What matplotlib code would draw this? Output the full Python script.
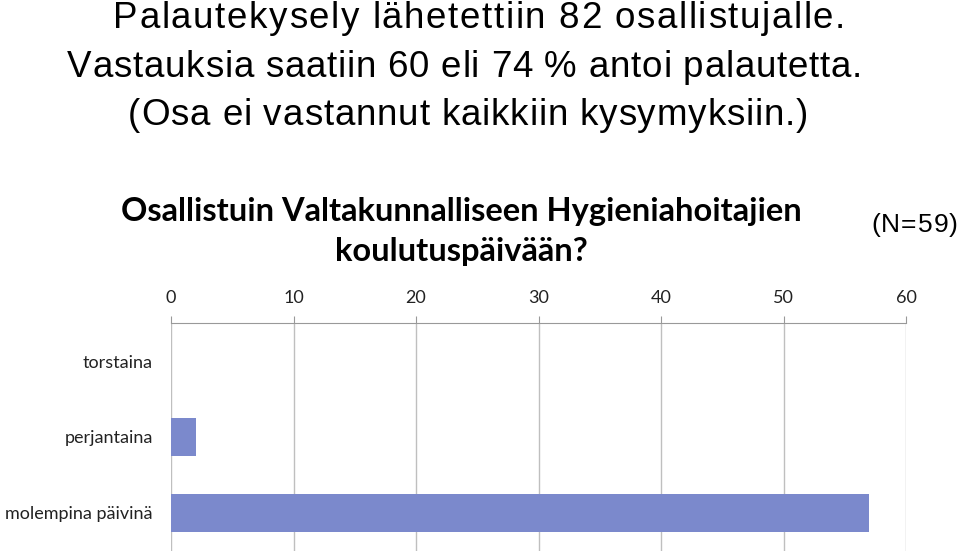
import matplotlib
matplotlib.use("Agg")
import matplotlib.pyplot as plt
from matplotlib.font_manager import FontProperties, findfont, get_font

# Data
categories = ['torstaina', 'perjantaina', 'molempina päivinä']
counts = [0, 2, 57]
x_ticks = [0, 10, 20, 30, 40, 50, 60]

header_lines = [
    'Palautekysely lähetettiin 82 osallistujalle.',
    'Vastauksia saatiin 60 eli 74 % antoi palautetta.',
    '(Osa ei vastannut kaikkiin kysymyksiin.)',
]
chart_title = ['Osallistuin Valtakunnalliseen Hygieniahoitajien',
               'koulutuspäivään?']
n_label = '(N=59)'

W, H = 960, 554
fig = plt.figure(figsize=(W / 100, H / 100), dpi=100)


def tracked_text(s, x_left, x_right, y_base, size):
    # header text in the original is stretched/letter-spaced, place char by char
    font = get_font(findfont(FontProperties(family='Liberation Sans')))
    font.set_size(size, fig.dpi)
    advs = [font.load_char(ord(c)).linearHoriAdvance / 65536 for c in s]
    extra = (x_right - x_left - sum(advs)) / (len(s) - 1)
    x = x_left
    for c, a in zip(s, advs):
        fig.text(x / W, 1 - y_base / H, c, ha='left', va='baseline',
                 fontsize=size, family='Liberation Sans', color='black')
        x += a + extra


# header lines: (left px, right px, baseline px)
header_pos = [(113, 845, 28), (67, 862, 77), (128, 808, 125)]
for line, (xl, xr, yb) in zip(header_lines, header_pos):
    tracked_text(line, xl, xr, yb, 26.5)

tracked_text(n_label, 871, 958, 232, 19)

fig.text(0.481, 1 - 211 / H, chart_title[0], ha='center', va='center',
         fontsize=23.5, family='Lato', fontweight='bold')
fig.text(0.481, 1 - 252 / H, chart_title[1], ha='center', va='center',
         fontsize=23.5, family='Lato', fontweight='bold')

ax = fig.add_axes([171 / W, 3 / H, 735 / W, 228 / H])
ax.barh(range(len(categories)), counts, height=0.49, color='#7B89CC', zorder=3)

ax.set_xlim(0, 60)
ax.set_ylim(2.5, -0.5)
ax.set_xticks(x_ticks)
ax.xaxis.tick_top()
ax.tick_params(axis='x', direction='out', length=5, color='#999999',
               labelsize=13, pad=7)
ax.set_yticks(range(len(categories)))
ax.set_yticklabels(categories)
ax.tick_params(axis='y', length=0, labelsize=13, pad=13)
for lbl in ax.get_xticklabels() + ax.get_yticklabels():
    lbl.set_family('Lato')
    lbl.set_color('#222222')

ax.grid(axis='x', color='#BFBFBF', linewidth=1, zorder=0)
for side in ['left', 'right', 'bottom']:
    ax.spines[side].set_visible(False)
ax.spines['top'].set_color('#999999')

fig.savefig('out.png', dpi=100)
